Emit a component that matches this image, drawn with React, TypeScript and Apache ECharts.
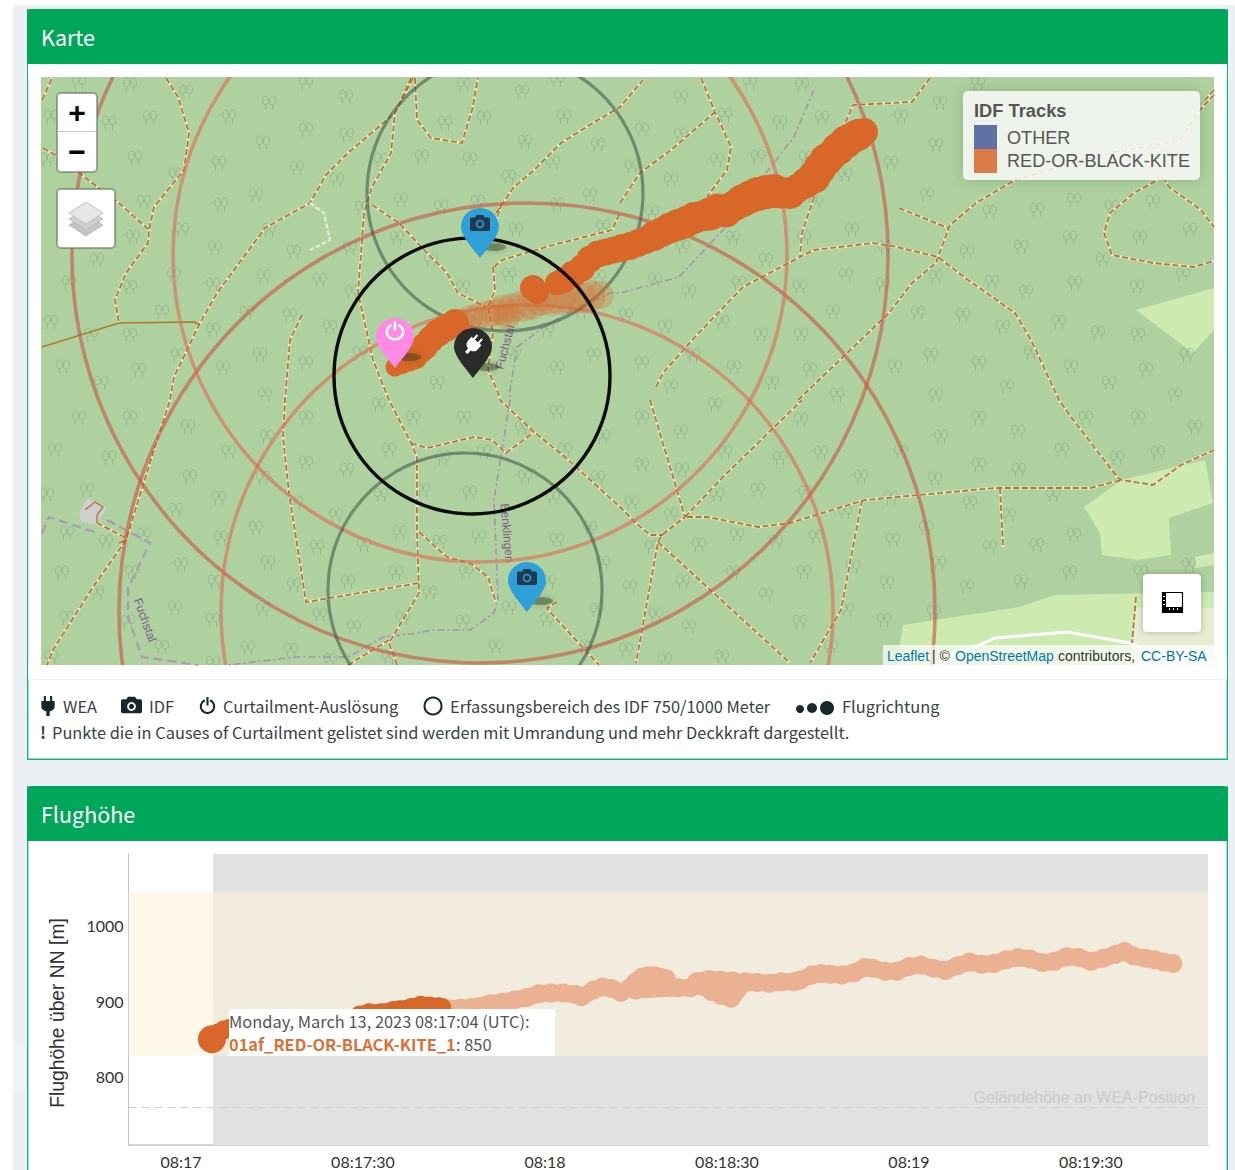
import React, { useEffect, useRef } from "react";
import * as echarts from "echarts";

// ---------- map layers (map pixels act as the map's projected coordinates) ----------
const trees: number[][] = [[79,83],[130,85],[186,92],[306,83],[346,97],[269,103],[229,117],[150,118],[109,123],[51,117],[306,130],[347,135],[263,143],[135,158],[219,163],[47,160],[297,168],[176,175],[337,180],[256,195],[144,202],[221,205],[182,230],[133,237],[269,230],[294,252],[97,260],[350,248],[397,238],[362,208],[215,248],[69,283],[174,275],[264,277],[320,280],[213,285],[352,292],[130,287],[162,312],[51,322],[247,313],[290,315],[330,327],[213,330],[91,335],[130,335],[260,355],[178,355],[306,363],[360,353],[223,368],[63,367],[139,370],[101,383],[437,383],[265,395],
[464,85],[522,92],[557,80],[445,123],[484,118],[564,117],[525,142],[598,145],[422,157],[470,159],[381,160],[509,177],[553,163],[590,195],[401,200],[441,207],[478,202],[516,230],[557,205],[603,227],[509,275],[599,277],[431,260],[463,287],[547,330],[581,312],[594,355],[557,368],[514,353],
[681,97],[750,83],[802,85],[822,118],[780,123],[901,117],[940,103],[978,83],[642,130],[681,135],[725,115],[717,160],[758,157],[806,158],[891,163],[936,145],[671,180],[632,167],[845,175],[927,195],[990,212],[1037,210],[1074,200],[1112,207],[1153,202],[1190,230],[1140,238],[1070,238],[1021,247],[967,252],[852,230],[816,202],[804,238],[733,238],[683,247],[652,213],[766,260],[885,248],[1103,260],[1183,275],[1137,287],[1075,283],[1026,292],[992,282],[936,277],[846,275],[800,287],[739,283],[689,292],[655,280],[883,285],[626,315],[665,327],[722,322],[761,335],[801,335],[833,312],[918,313],[963,315],[1003,327],[1059,322],[1098,333],[1138,335],[693,355],[642,363],[734,367],[810,370],[895,367],[931,355],[979,363],[1031,353],[1071,367],[1187,355],[1146,370],[1109,383],[1007,387],[936,395],[671,387],[772,383],[837,395],[1175,395],
[79,418],[130,418],[55,450],[109,458],[188,427],[229,452],[306,418],[267,437],[190,477],[306,463],[347,470],[263,478],[379,405],[413,418],[464,418],[557,412],[389,450],[443,458],[484,452],[522,428],[565,450],[603,437],[381,495],[423,490],[470,493],[525,477],[553,498],[598,478],[47,495],[87,490],[176,510],[219,498],[336,515],[256,528],[296,503],[400,533],[440,542],[479,537],[557,540],[590,528],[67,533],[106,542],[144,535],[221,538],[317,547],[364,545],[181,565],[62,573],[132,572],[268,563],[215,582],[294,585],[348,582],[396,573],[466,572],[603,563],[97,593],[430,593],[175,608],[549,582],[67,618],[263,610],[320,615],[128,622],[213,620],[403,618],[509,608],[354,627],[463,622],[547,620],[597,610],[162,647],[248,648],[291,650],[496,647],[389,657],[51,657],[330,660],[585,648],[213,663],
[642,418],[681,432],[801,420],[715,405],[780,458],[821,453],[725,452],[901,452],[941,437],[979,418],[1018,432],[1086,418],[1138,418],[1195,427],[1062,450],[1117,458],[1158,453],[979,465],[1019,470],[935,479],[861,477],[642,465],[682,470],[717,495],[758,490],[805,493],[632,503],[671,515],[845,512],[891,498],[1009,515],[970,503],[1053,495],[737,535],[816,537],[699,545],[776,542],[893,540],[926,528],[990,547],[1037,545],[1074,535],[652,547],[630,587],[683,582],[733,573],[804,572],[853,567],[887,583],[939,563],[967,587],[1021,582],[1070,573],[1141,572],[1189,565],[766,595],[656,615],[689,627],[800,622],[847,610],[884,620],[934,612],[626,650],[665,660],[722,657],[831,647]];

const meadows: number[][][] = [
  [[1136,310],[1214,288],[1214,330],[1193,353]],
  [[1084,507],[1122,480],[1205,460],[1213,503],[1169,518],[1171,555],[1138,560],[1102,555],[1100,533]],
  [[1195,557],[1214,553],[1214,565],[1195,568]],
  [[897,665],[903,625],[1019,607],[1055,595],[1214,592],[1214,608],[1134,608],[1134,665]],
];
const farmland: number[][][] = [[[1134,608],[1214,608],[1214,665],[1134,665]]];
const quarry: number[][][] = [[[79,513],[87,498],[107,507],[97,525],[81,522]]];
const whiteRoad: number[][][] = [[[936,665],[995,638],[1067,632],[1130,643],[1150,653],[1214,663]]];

const dashedRoads: number[][][] = [
  [[166,78],[178,97],[189,133],[184,170],[154,207],[149,230],[148,243],[126,273],[115,300],[119,323]],
  [[43,148],[59,157],[79,173],[119,203],[149,230]],
  [[413,78],[395,113],[348,153],[326,175],[310,203],[265,228],[217,293],[200,323],[174,377],[170,400],[154,450],[126,540],[91,590],[53,650],[47,665]],
  [[411,78],[395,113],[391,153],[372,187],[364,213],[358,293],[373,360],[389,400],[411,443],[417,457],[417,533],[419,593],[395,633],[389,643],[397,665]],
  [[415,78],[417,120],[431,138],[462,143],[472,110],[478,78]],
  [[372,205],[399,223],[427,253],[447,273],[458,293],[486,307]],
  [[493,267],[495,290],[488,307],[493,333],[488,370],[497,390],[500,400],[534,432],[565,457],[620,507],[636,523],[650,535],[663,535]],
  [[494,267],[502,260],[553,245],[612,230],[620,213]],
  [[496,213],[514,187],[534,170],[561,143],[593,123],[620,107],[643,80]],
  [[620,203],[640,173],[671,150],[715,112]],
  [[701,78],[715,112],[731,147],[727,170],[707,197]],
  [[814,197],[802,233],[800,257]],
  [[656,387],[663,373],[695,337],[743,287],[800,257],[814,250],[873,243],[897,247],[938,257],[968,280],[1015,313],[1031,340],[1059,400],[1071,417],[1118,478],[1122,480],[1153,485],[1181,465],[1214,450]],
  [[798,400],[889,313],[912,283],[936,263],[938,257],[950,225],[976,203],[1015,180],[1100,155],[1180,140],[1200,110],[1214,95]],
  [[899,208],[948,228]],
  [[1163,177],[1134,193],[1110,213],[1104,233],[1112,255],[1153,263],[1193,267],[1214,261]],
  [[1163,177],[1169,187],[1201,210],[1214,227]],
  [[930,78],[912,102],[853,105],[841,133]],
  [[1214,90],[1205,100]],
  [[302,315],[290,340],[285,400],[283,437],[289,493],[306,602],[419,583]],
  [[419,532],[447,557],[470,563],[488,577],[496,603]],
  [[411,443],[427,448],[474,437],[492,440],[506,453],[534,432]],
  [[557,602],[547,608],[551,613],[599,665]],
  [[348,665],[389,640]],
  [[97,523],[126,538],[130,527]],
  [[650,400],[685,517],[662,535],[658,542],[636,663]],
  [[685,517],[723,477],[802,400]],
  [[687,517],[707,517],[758,527],[790,523],[865,500],[995,488],[1090,488],[1122,480]],
  [[862,500],[841,610],[810,663]],
  [[1000,488],[1003,547]],
  [[658,542],[790,663]],
  [[1136,597],[1132,643]],
  [[42,100],[52,78]],
  [[502,203],[494,227]],
  [[119,543],[126,540]],
];
const solidRoads: number[][][] = [
  [[42,347],[119,323],[194,322],[200,325]],
  [[85,510],[95,502],[103,507],[97,515],[97,523]],
];
const paleTrack: number[][][] = [[[310,203],[324,213],[330,240],[310,250]]];
const footpaths: number[][][] = [
  [[814,90],[794,137],[766,173],[723,230],[679,277],[620,293],[610,293],[567,313],[540,330],[517,347],[510,390],[510,400],[494,500],[498,600],[494,613],[470,630],[431,630],[419,633],[383,637],[348,657],[296,657],[229,665]],
];
const boundaries: number[][][] = [
  [[42,533],[49,517],[97,533]],
  [[107,520],[150,543],[128,588],[128,617],[142,657],[198,665]],
];
const ring750: number[][] = [[480,255,307],[527,611,306]];
const ring1000: number[][] = [[480,255,408],[527,611,408]];
const idfRings: number[][] = [[505,193,138],[465,590,137]];
const weaRing: number[][] = [[472,376,138]];

// track points: x, y, symbol size
const trackEarly: number[][] = [[395,367,19],[402,364,20],[409,360,23],[415,357,25],[420,351,26],[425,346,27],[431,339,27],[438,333,28],[446,328,28],[455,323,28]];
const trackFaint: number[][] = [[462,322,26],[470,318,26],[478,316,26],[487,315,28],[495,312,28],[503,310,30],[507,317,26],[512,308,30],[523,306,32],[532,304,32],[540,300,32],[550,300,32],[560,299,32],[570,298,32],[580,297,32],[590,296,32],[600,295,28]];
const trackLate: number[][] = [[533,288,26],[537,292,24],[557,283,24],[564,280,26],[573,274,27],[582,268,27],[590,259,27],[598,254,27],[606,252,27],[614,250,27],[622,248,28],[630,246,28],[638,243,28],[646,240,28],[654,236,30],[662,232,30],[670,228,31],[678,225,32],[686,222,32],[694,218,32],[702,216,31],[710,214,33],[718,210,33],[726,212,31],[734,206,31],[742,201,33],[750,197,33],[758,194,34],[766,192,34],[774,191,34],[782,193,31],[790,193,32],[798,188,29],[806,183,31],[814,177,33],[820,168,33],[826,160,33],[832,155,31],[838,149,33],[846,142,33],[852,138,32],[858,135,32],[864,132,28]];

const pinsIdf: number[][] = [[480,258],[527,612]];
const pinsCurtail: number[][] = [[395,368]];
const pinsWea: number[][] = [[473,378]];

// ---------- altitude chart ----------
const xTickSeconds = [0, 30, 60, 90, 120, 150];
const xTickLabels = ["08:17", "08:17:30", "08:18", "08:18:30", "08:19", "08:19:30"];
const yTickValues = [800, 900, 1000];
const terrainHeight = 760;
const curtailBand = [828, 1044];
const altFirst: number[][] = [[5.1, 850]];
const altDark: number[][] = [[6,858],[7,862],[8,864],[10,866],[13,868],[16,869],[19,870],[22,871],[25,873],[28,876],[29.5,882],[31,885],[33,885],[35,888],[36,889],[38,892],[39.5,895],[41,894],[42.5,893],[43,892]];
const altLight: number[][] = [[44.5,890],[46,891],[48,892],[51,897],[53,899],[55,902],[57,905],[59,910],[61,911],[63,911],[65,909],[66,906],[68,915],[69.5,919],[71,917],[72.5,912],[74,918],[75,926],[76,932],[77,934],[78,934],[79,932],[80,930],[79.5,920],[77,917],[75,915],[82,918],[84,918],[85,926],[87,929],[89,928],[91,927],[86,920],[87.5,913],[89,908],[90.7,904],[93,926],[95,925],[97,924],[99,926],[101,926],[102,928],[104,935],[105.5,937],[107,936],[109,935],[111,938],[112.7,945],[114,944],[116,940],[118,940],[120,946],[122,948],[124,944],[126,941],[128,947],[130,952],[132,949],[134,950],[136,955],[138,958],[140,956],[142,951],[144,953],[146,959],[148,958],[150,953],[152,957],[154,962],[155.5,966],[157,960],[159,957],[160.5,955],[162,952],[163.5,950]];
const xMin = -8.65, xMax = 169.3, yMin = 710, yMax = 1095, grayStart = 5.3;

// ---------- icons ----------
const PLUG = "M7 0h2.5v6h5V0H17v6h3v7c0 3-3 5-6 5.5V24h-4v-5.5C7 18 4 16 4 13V6h3V0Z";
const POWER = "M10.5 0h3v12h-3Z M16.5 3.3L15 5.9A8 8 0 1 1 9 5.9L7.5 3.3A11 11 0 1 0 16.5 3.3Z";
const CAMERA = "M8 3L6 6H2C1 6 0 7 0 8V20C0 21 1 22 2 22H22C23 22 24 21 24 20V8C24 7 23 6 22 6H18L16 3Z";
const PIN = "M19 0C8.5 0 0 8.5 0 19C0 28 13 42 19 50C25 42 38 28 38 19C38 8.5 29.5 0 19 0Z";
const TREE = "M3 0C1.2 0 0 2 0 4.5C0 6.5 1.2 7.5 3 7.5C4.8 7.5 6 6.5 6 4.5C6 2 4.8 0 3 0Z M3 7.5L3 12 M10 0C8.2 0 7 2 7 4.5C7 6.5 8.2 7.5 10 7.5C11.8 7.5 13 6.5 13 4.5C13 2 11.8 0 10 0Z M10 7.5L10 12";

echarts.graphic.registerShape("plugIcon", echarts.graphic.extendPath(PLUG, {}) as any);
echarts.graphic.registerShape("powerIcon", echarts.graphic.extendPath(POWER, {}) as any);
echarts.graphic.registerShape("cameraIcon", echarts.graphic.extendPath(CAMERA, {}) as any);

const UI = "'Noto Sans CJK SC', 'Noto Sans', sans-serif";
const TICKS = "Lato, 'Noto Sans', sans-serif";
const MAPF = "'Liberation Sans', Arial, sans-serif";

function txt(text: string, x: number, y: number, fontSize: number, fill: string, extra: any = {}, z = 20) {
  const { rotation, fontFamily, fontWeight, align, opacity } = extra;
  return {
    type: "text", x, y, rotation: rotation || 0, z, silent: true,
    style: {
      text, x: 0, y: 0, fill, fontSize, opacity: opacity ?? 1,
      fontFamily: fontFamily || UI, fontWeight: fontWeight || "normal",
      align: align || "left", textAlign: align || "left",
      verticalAlign: "middle", textVerticalAlign: "middle",
    },
  };
}
const rect = (x: number, y: number, width: number, height: number, style: any, r: any = 0, z = 20) => ({
  type: "rect", z, silent: true, shape: { x, y, width, height, r }, style,
});
const icon = (type: string, x: number, y: number, size: number, fill: string, z = 20) => ({
  type, x, y, scaleX: size / 24, scaleY: size / 24, z, silent: true, style: { fill },
});
const diamond = (cy: number, fill: string) => ({
  type: "polygon", z: 21, silent: true,
  shape: { points: [[69, cy], [86, cy - 11], [103, cy], [86, cy + 11]] },
  style: { fill, stroke: "#b8b8b8", lineWidth: 0.8 },
});
const dot = (cx: number, cy: number, r: number, style: any, z = 20) => ({
  type: "circle", z, silent: true, shape: { cx, cy, r }, style,
});

function circleSeries(data: number[][], stroke: string, lineWidth: number, z: number) {
  return {
    type: "custom", xAxisIndex: 0, yAxisIndex: 0, silent: true, z, clip: true, data,
    renderItem: (params: any, api: any) => {
      const c = api.coord([api.value(0), api.value(1)]);
      const r = api.size([api.value(2), 0])[0];
      const cs = params.coordSys;
      return {
        type: "circle", shape: { cx: c[0], cy: c[1], r },
        style: { fill: "none", stroke, lineWidth },
        clipPath: { type: "rect", shape: { x: cs.x, y: cs.y, width: cs.width, height: cs.height } },
      };
    },
  };
}
function polygonSeries(polys: number[][][], fill: string) {
  return {
    type: "custom", xAxisIndex: 0, yAxisIndex: 0, silent: true, z: 2,
    data: polys.map((_, i) => [i]),
    renderItem: (_: any, api: any) => ({
      type: "polygon",
      shape: { points: polys[api.value(0)].map((p) => api.coord(p)) },
      style: { fill },
    }),
  };
}
function linesSeries(paths: number[][][], color: string, width: number, type: any, z: number, opacity = 1) {
  return {
    type: "lines", coordinateSystem: "cartesian2d", xAxisIndex: 0, yAxisIndex: 0,
    polyline: true, silent: true, z,
    lineStyle: { color, width, type, opacity, cap: "butt" },
    data: paths.map((coords) => ({ coords })),
  };
}
function trackSeries(data: number[][], color: string, opacity: number, z: number) {
  return {
    type: "scatter", xAxisIndex: 0, yAxisIndex: 0, silent: true, z, data,
    symbol: "circle", symbolSize: (v: number[]) => v[2],
    itemStyle: { color, opacity },
  };
}
function pinSeries(data: number[][], color: string) {
  return {
    type: "scatter", xAxisIndex: 0, yAxisIndex: 0, silent: true, z: 9, data,
    symbol: "path://" + PIN, symbolSize: [38, 50], symbolOffset: [0, -25],
    itemStyle: { color, opacity: 1 },
  };
}
function pinIcon(data: number[][], symbol: string, size: number[], offset: number[], itemStyle: any, rotate = 0, z = 10) {
  return {
    type: "scatter", xAxisIndex: 0, yAxisIndex: 0, silent: true, z, data,
    symbol, symbolSize: size, symbolOffset: offset, symbolRotate: rotate, itemStyle: { opacity: 1, ...itemStyle },
  };
}
function altLineSeries(data: number[][], color: string, size: number, z: number, extra: any = {}) {
  return {
    type: "line", xAxisIndex: 1, yAxisIndex: 1, silent: true, z, data,
    symbol: "circle", symbolSize: size, showSymbol: true, showAllSymbol: true,
    itemStyle: { color, opacity: 1 },
    lineStyle: { color, width: size - 2, cap: "round", join: "round" },
    ...extra,
  };
}
function bandSeries(bands: number[][], fill: string, z: number) {
  return {
    type: "custom", xAxisIndex: 1, yAxisIndex: 1, silent: true, z, data: bands,
    renderItem: (_: any, api: any) => {
      const a = api.coord([api.value(0), api.value(3)]);
      const b = api.coord([api.value(1), api.value(2)]);
      return { type: "rect", shape: { x: a[0], y: a[1], width: b[0] - a[0], height: b[1] - a[1] }, style: { fill } };
    },
  };
}

const GREEN = "#00a65a";
const CARD_BORDER = { fill: "#17b573" };
const BODY = "#3a3f44";
const F = 16.4;

const chrome: any[] = [
  rect(0, 0, 1235, 1170, { fill: "#ffffff" }, 0, -12),
  rect(13, 5, 1222, 1165, { fill: "#ecf0f5" }, 0, -11),
  rect(13, 1047, 13, 43, { fill: "#f3f4f6" }, 3, -10),
  rect(27, 9, 1201, 751, { fill: "#ffffff" }, 4, -10),
  rect(27, 9, 1.4, 750, { ...CARD_BORDER }, 0, -9.5),
  rect(1226.6, 9, 1.4, 750, { ...CARD_BORDER }, 0, -9.5),
  rect(27, 758.6, 1201, 1.4, { ...CARD_BORDER }, 0, -9.5),
  rect(27, 9, 1201, 55, { fill: GREEN }, [4, 4, 0, 0], -9),
  rect(27, 786, 1201, 420, { fill: "#ffffff" }, 4, -10),
  rect(27, 786, 1.4, 384, { ...CARD_BORDER }, 0, -9.5),
  rect(1226.6, 786, 1.4, 384, { ...CARD_BORDER }, 0, -9.5),
  rect(27, 786, 1201, 55, { fill: GREEN }, [4, 4, 0, 0], -9),
  txt("Karte", 41, 36, 21.5, "#ffffff", {}, -8),
  txt("Flughöhe", 41, 813, 21.5, "#ffffff", {}, -8),
  rect(28.4, 679, 1198, 1, { fill: "#f1f1f1" }, 0, -8),

  // frame round the map hiding tree glyphs that overhang it
  rect(28.4, 64, 1198, 13, { fill: "#ffffff" }, 0, 3.5),
  rect(28.4, 665, 1198, 14, { fill: "#ffffff" }, 0, 3.5),
  rect(28.4, 64, 12.6, 615, { fill: "#ffffff" }, 0, 3.5),
  rect(1214, 64, 12.6, 615, { fill: "#ffffff" }, 0, 3.5),

  // map street labels
  txt("Fuchstal", 505, 347, 12, "#7b5a8c", { rotation: (75 * Math.PI) / 180, align: "center", fontFamily: MAPF }, 5),
  txt("Fuchstal", 145, 620, 12, "#7b5a8c", { rotation: (-70 * Math.PI) / 180, align: "center", fontFamily: MAPF }, 5),
  txt("Benklingen", 507, 533, 12, "#7b5a8c", { rotation: (-85 * Math.PI) / 180, align: "center", fontFamily: MAPF }, 5),

  // map zoom control
  rect(57, 93, 40, 79, { fill: "#ffffff", stroke: "rgba(90,110,85,0.55)", lineWidth: 2 }, 4),
  rect(58, 131, 38, 1, { fill: "#cccccc" }, 0, 21),
  txt("+", 77, 112, 30, "#000000", { align: "center", fontFamily: MAPF, fontWeight: "bold" }, 21),
  txt("−", 77, 151, 30, "#000000", { align: "center", fontFamily: MAPF, fontWeight: "bold" }, 21),
  // layers control
  rect(57, 189, 58, 59, { fill: "#ffffff", stroke: "rgba(90,110,85,0.55)", lineWidth: 2 }, 4),
  diamond(225, "#c4c4c4"), diamond(219, "#cfcfcf"), diamond(213, "#e6e6e6"),

  // map legend
  rect(963, 91, 237, 89, { fill: "rgba(255,255,255,0.8)", shadowBlur: 14, shadowColor: "rgba(0,0,0,0.2)" }, 5),
  txt("IDF Tracks", 974, 110, 18.3, "#555555", { fontFamily: MAPF, fontWeight: "bold" }, 21),
  rect(974, 125, 23, 24, { fill: "#6271a3" }, 0, 21),
  rect(974, 149, 23, 24, { fill: "#dc7b48" }, 0, 21),
  txt("OTHER", 1007, 138, 18.1, "#555555", { fontFamily: MAPF }, 21),
  txt("RED-OR-BLACK-KITE", 1007, 161, 18.1, "#555555", { fontFamily: MAPF }, 21),

  // measure button
  rect(1143, 574, 58, 58, { fill: "#ffffff", shadowBlur: 6, shadowColor: "rgba(0,0,0,0.25)" }, 4),
  rect(1162.5, 592.5, 20, 20, { fill: "#ffffff", stroke: "#000000", lineWidth: 1.2 }, 0, 21),
  rect(1162, 592, 4, 21, { fill: "#000000" }, 0, 21),
  rect(1162, 607, 21, 6, { fill: "#000000" }, 0, 21),
  rect(1163, 596, 2, 1, { fill: "#ffffff" }, 0, 22),
  rect(1163, 600, 2, 1, { fill: "#ffffff" }, 0, 22),
  rect(1163, 604, 2, 1, { fill: "#ffffff" }, 0, 22),
  rect(1169, 608, 1, 2, { fill: "#ffffff" }, 0, 22),
  rect(1173, 608, 1, 2, { fill: "#ffffff" }, 0, 22),
  rect(1177, 608, 1, 2, { fill: "#ffffff" }, 0, 22),

  // attribution
  rect(883, 645, 331, 20, { fill: "rgba(255,255,255,0.7)" }),
  txt("Leaflet", 887, 656, 14, "#0078a8", { fontFamily: MAPF }, 21),
  txt("| ©", 932, 656, 14, "#333333", { fontFamily: MAPF }, 21),
  txt("OpenStreetMap", 955, 656, 14, "#0078a8", { fontFamily: MAPF }, 21),
  txt("contributors,", 1058, 656, 14, "#333333", { fontFamily: MAPF }, 21),
  txt("CC-BY-SA", 1141, 656, 14, "#0078a8", { fontFamily: MAPF }, 21),

  // key under map
  icon("plugIcon", 38, 696, 20, "#17282b"),
  txt("WEA", 63, 706, F, BODY),
  icon("cameraIcon", 121, 694, 21, "#17282b"),
  dot(131.5, 706.5, 3.5, { fill: "none", stroke: "#ffffff", lineWidth: 1.8 }, 21),
  txt("IDF", 149, 706, F, BODY),
  icon("powerIcon", 199, 697, 17, "#17282b"),
  txt("Curtailment-Auslösung", 223, 706, F, BODY),
  dot(433, 706, 8.5, { fill: "none", stroke: "#17282b", lineWidth: 2 }),
  txt("Erfassungsbereich des IDF 750/1000 Meter", 450, 706, F, BODY),
  dot(800, 709, 4, { fill: "#17282b" }),
  dot(812, 708, 5, { fill: "#17282b" }),
  dot(827, 708, 7, { fill: "#17282b" }),
  txt("Flugrichtung", 842, 706, F, BODY),
  txt("!", 40, 732, F, BODY, { fontWeight: "bold" }),
  txt("Punkte die in Causes of Curtailment gelistet sind werden mit Umrandung und mehr Deckkraft dargestellt.", 52, 732, F, BODY),

  // altitude chart
  txt("Flughöhe über NN [m]", 57, 1013, 19.3, "#333333", { rotation: Math.PI / 2, align: "center", fontFamily: MAPF }),
  rect(229, 1009, 326, 47, { fill: "#ffffff" }, 0, 20),
  txt("Monday, March 13, 2023 08:17:04 (UTC):", 229, 1021, F, "#555555", {}, 21),
  txt("01af_RED-OR-BLACK-KITE_1", 229, 1044, F, "#dc6f35", { fontWeight: "bold" }, 21),
  txt(": 850", 456, 1044, F, "#555555", {}, 21),
];

export default function App() {
  const ref = useRef<HTMLDivElement>(null);
  useEffect(() => {
    const chart = echarts.init(ref.current!, null, { renderer: "svg" });
    chart.setOption({
      animation: false,
      textStyle: { fontFamily: UI },
      tooltip: { show: false },
      grid: [
        { left: 41, top: 77, width: 1173, height: 588, show: true, backgroundColor: "#aed19f", borderWidth: 0 },
        { left: 128.5, top: 854, width: 1079.5, height: 291, containLabel: false },
      ],
      xAxis: [
        { type: "value", gridIndex: 0, min: 41, max: 1214, show: false },
        {
          type: "value", gridIndex: 1, min: xMin, max: xMax,
          splitLine: { show: false }, axisTick: { show: false },
          axisLine: { show: true, onZero: false, lineStyle: { color: "#c4c4c4", width: 1.5 } },
          axisLabel: {
            customValues: xTickSeconds, color: "#333333", fontSize: 16, margin: 8, fontFamily: TICKS,
            formatter: (v: number) => xTickLabels[xTickSeconds.indexOf(v)] ?? "",
          },
        },
      ],
      yAxis: [
        { type: "value", gridIndex: 0, min: 77, max: 665, inverse: true, show: false },
        {
          type: "value", gridIndex: 1, min: yMin, max: yMax,
          splitLine: { show: false }, axisTick: { show: false },
          axisLine: { show: true, onZero: false, lineStyle: { color: "#c4c4c4", width: 1 } },
          axisLabel: {
            customValues: yTickValues, color: "#333333", fontSize: 16, margin: 5, padding: [0, 0, 2, 0], fontFamily: TICKS,
            formatter: (v: number) => String(v),
          },
        },
      ],
      graphic: { elements: chrome },
      series: [
        polygonSeries(meadows, "#cdebb0"),
        polygonSeries(farmland, "#e7ecd2"),
        polygonSeries(quarry, "#cfcfcf"),
        {
          type: "scatter", xAxisIndex: 0, yAxisIndex: 0, silent: true, z: 3, data: trees,
          symbol: "path://" + TREE, symbolSize: [13, 14],
          itemStyle: { color: "transparent", borderColor: "#8fb18a", borderWidth: 0.8, opacity: 1 },
        },
        linesSeries(whiteRoad, "#ffffff", 3, "solid", 4),
        linesSeries(boundaries, "#a99bae", 2.2, [9, 5], 4),
        linesSeries(footpaths, "#a892ac", 1.6, [7, 3, 2, 3], 4),
        linesSeries(dashedRoads, "#e3e8cf", 2.8, "solid", 4),
        linesSeries(dashedRoads, "#b07a2c", 1.8, [6, 2.5], 5),
        linesSeries(solidRoads, "#b07a2c", 1.4, "solid", 5),
        linesSeries(paleTrack, "#e3e8cf", 2.4, [5, 2], 5),
        circleSeries(ring1000, "rgba(200,85,70,0.62)", 3.6, 6),
        circleSeries(ring750, "rgba(222,105,80,0.6)", 3.6, 6),
        circleSeries(idfRings, "rgba(60,80,65,0.55)", 3.2, 6),
        trackSeries(trackFaint, "#d9672a", 0.28, 7),
        trackSeries(trackEarly, "#d9672a", 1, 7),
        trackSeries(trackLate, "#d9672a", 1, 7),
        circleSeries(weaRing, "#0c0c0c", 3.4, 8),
        {
          type: "scatter", xAxisIndex: 0, yAxisIndex: 0, silent: true, z: 8,
          data: [...pinsIdf, ...pinsCurtail, ...pinsWea], symbol: "circle",
          symbolSize: [24, 8], symbolOffset: [14, -11],
          itemStyle: { color: "rgba(40,50,25,0.4)", opacity: 1, shadowBlur: 6, shadowColor: "rgba(40,50,25,0.5)" },
        },
        pinSeries(pinsIdf, "#2f9fd8"),
        pinSeries(pinsCurtail, "#ff8ae6"),
        pinSeries(pinsWea, "#2b2b2b"),
        pinIcon(pinsIdf, "path://" + CAMERA, [20, 16], [0, -35], { color: "#1d3a50" }),
        pinIcon(pinsIdf, "circle", [7, 7], [0, -34], { color: "#1d3a50", borderColor: "#2f9fd8", borderWidth: 1.5 }, 0, 11),
        pinIcon(pinsCurtail, "path://" + POWER, [19, 19], [0, -37], { color: "#ffffff" }),
        pinIcon(pinsWea, "path://" + PLUG, [13, 21], [0, -33], { color: "#ffffff" }, -40),

        bandSeries([[grayStart, xMax, yMin, yMax]], "#e1e1e1", 1),
        bandSeries([[xMin, xMax, curtailBand[0], curtailBand[1]]], "rgba(253,243,222,0.6)", 2),
        altLineSeries(altLight, "#eab193", 19, 3, {
          markLine: {
            silent: true, symbol: "none", animation: false,
            lineStyle: { color: "#cfcfcf", type: [8, 5], width: 1.2 },
            label: {
              show: true, position: "insideEndTop", distance: [13, 2],
              formatter: "Geländehöhe an WEA-Position", color: "#c9c9c9",
              fontFamily: MAPF, fontSize: 16, fontWeight: "normal",
            },
            data: [{ yAxis: terrainHeight }],
          },
        }),
        altLineSeries(altDark, "#d9672a", 19, 4),
        altLineSeries(altFirst, "#d9672a", 28, 4),
      ],
    });
    return () => chart.dispose();
  }, []);
  return <div ref={ref} style={{ position: "absolute", left: 0, top: 0, width: 1235, height: 1170 }} />;
}
